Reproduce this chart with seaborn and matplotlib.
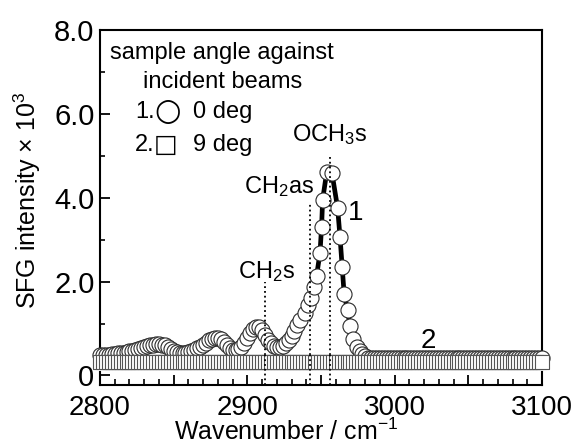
import numpy as np
import matplotlib
matplotlib.use("Agg")
import matplotlib.pyplot as plt
from matplotlib.ticker import MultipleLocator, FixedLocator, FuncFormatter
import seaborn as sns

# series 1: sample angle 0 deg (circles + fit line)
wn1 = [2800, 2802, 2804, 2806, 2808, 2810, 2812, 2814, 2816, 2818,
       2820, 2822, 2824, 2826, 2828, 2830, 2832, 2834, 2836, 2838,
       2840, 2842, 2844, 2846, 2848, 2850, 2852, 2854, 2856, 2858,
       2860, 2862, 2864, 2866, 2868, 2870, 2872, 2874, 2876, 2878,
       2880, 2882, 2884, 2886, 2888, 2890, 2892, 2894, 2896, 2898,
       2900, 2902, 2904, 2906, 2908, 2910, 2912, 2914, 2916, 2918,
       2920, 2922, 2924, 2926, 2928, 2930, 2932, 2934,
       2936, 2939, 2941, 2943.5, 2945.3, 2947, 2949.3, 2950.4, 2951.1, 2953.9,
       2957.5, 2961.3, 2962.9, 2964.4, 2965.7, 2968, 2969.7, 2971.5, 2974.2, 2976.5,
       2978, 2980, 2982, 2984, 2986, 2988, 2990, 2992, 2994, 2996,
       2998, 3000, 3002, 3004, 3006, 3008, 3010, 3012, 3014, 3016,
       3018, 3020, 3022, 3024, 3026, 3028, 3030, 3032, 3034, 3036,
       3038, 3040, 3042, 3044, 3046, 3048, 3050, 3052, 3054, 3056,
       3058, 3060, 3062, 3064, 3066, 3068, 3070, 3072, 3074, 3076,
       3078, 3080, 3082, 3084, 3086, 3088, 3090, 3092, 3094, 3096,
       3098, 3100]
sfg1 = [0.25, 0.25, 0.26, 0.26, 0.27, 0.28, 0.29, 0.30, 0.31, 0.32,
        0.34, 0.36, 0.38, 0.40, 0.42, 0.44, 0.46, 0.48, 0.50, 0.51,
        0.51, 0.50, 0.48, 0.44, 0.40, 0.36, 0.33, 0.31, 0.30, 0.31,
        0.32, 0.34, 0.37, 0.41, 0.45, 0.50, 0.55, 0.60, 0.64, 0.66,
        0.66, 0.63, 0.57, 0.49, 0.42, 0.38, 0.37, 0.39, 0.45, 0.54,
        0.65, 0.77, 0.87, 0.92, 0.91, 0.84, 0.73, 0.62, 0.53, 0.47,
        0.44, 0.44, 0.47, 0.53, 0.61, 0.71, 0.83, 0.96,
        1.09, 1.25, 1.45, 1.60, 1.87, 2.14, 2.68, 3.31, 3.95, 4.62,
        4.58, 3.75, 3.07, 2.36, 1.71, 1.33, 0.94, 0.63, 0.44, 0.34,
        0.27, 0.22, 0.19, 0.18, 0.17, 0.17, 0.17, 0.17, 0.17, 0.17,
        0.17, 0.17, 0.17, 0.17, 0.17, 0.17, 0.17, 0.17, 0.17, 0.17,
        0.17, 0.17, 0.17, 0.17, 0.17, 0.17, 0.17, 0.17, 0.17, 0.17,
        0.17, 0.17, 0.17, 0.17, 0.17, 0.17, 0.17, 0.17, 0.17, 0.17,
        0.17, 0.17, 0.17, 0.17, 0.17, 0.17, 0.17, 0.17, 0.17, 0.17,
        0.17, 0.17, 0.17, 0.17, 0.17, 0.17, 0.17, 0.17, 0.17, 0.17,
        0.17, 0.17]

# series 2: sample angle 9 deg (squares), lower broken-axis panel
wn2 = list(range(2800, 3101, 2))
sfg2 = [0.30, 0.30, 0.30, 0.30, 0.30, 0.30, 0.30, 0.30, 0.30, 0.30,
        0.30, 0.30, 0.30, 0.30, 0.30, 0.30, 0.30, 0.30, 0.30, 0.30,
        0.30, 0.30, 0.30, 0.30, 0.30, 0.30, 0.30, 0.30, 0.30, 0.30,
        0.30, 0.30, 0.30, 0.30, 0.30, 0.30, 0.30, 0.30, 0.30, 0.30,
        0.30, 0.30, 0.30, 0.30, 0.30, 0.30, 0.30, 0.30, 0.30, 0.30,
        0.30, 0.30, 0.30, 0.30, 0.30, 0.30, 0.30, 0.30, 0.30, 0.30,
        0.30, 0.30, 0.30, 0.30, 0.30, 0.30, 0.30, 0.30, 0.30, 0.30,
        0.30, 0.30, 0.30, 0.30, 0.30, 0.30, 0.30, 0.30, 0.30, 0.30,
        0.30, 0.30, 0.30, 0.30, 0.30, 0.30, 0.30, 0.30, 0.30, 0.30,
        0.30, 0.30, 0.30, 0.30, 0.30, 0.30, 0.30, 0.30, 0.30, 0.30,
        0.30, 0.30, 0.30, 0.30, 0.30, 0.30, 0.30, 0.30, 0.30, 0.30,
        0.30, 0.30, 0.30, 0.30, 0.30, 0.30, 0.30, 0.30, 0.30, 0.30,
        0.30, 0.30, 0.30, 0.30, 0.30, 0.30, 0.30, 0.30, 0.30, 0.30,
        0.30, 0.30, 0.30, 0.30, 0.30, 0.30, 0.30, 0.30, 0.30, 0.30,
        0.30, 0.30, 0.30, 0.30, 0.30, 0.30, 0.30, 0.30, 0.30, 0.30,
        0.30]

# peak assignments: label, wavenumber, top of the dotted line
peak_labels = ["CH$_2$s", "CH$_2$as", "OCH$_3$s"]
peak_wn = [2912, 2942.5, 2956]
peak_top = [2.0, 3.9, 5.0]

sns.set_style("ticks")
plt.rcParams['font.family'] = ['Liberation Sans', 'DejaVu Sans']
plt.rcParams['mathtext.fontset'] = 'custom'
plt.rcParams['mathtext.rm'] = 'Liberation Sans'
plt.rcParams['mathtext.it'] = 'Liberation Sans:italic'
for k in ['text.color', 'axes.labelcolor', 'xtick.color', 'ytick.color']:
    plt.rcParams[k] = 'black'

fig = plt.figure(figsize=(5.74, 4.47), dpi=100)
W, H = 574, 447
x0, x1 = 100, 542
ax = fig.add_axes([x0 / W, (H - 355) / H, (x1 - x0) / W, 325 / H])
axb = fig.add_axes([x0 / W, (H - 385) / H, (x1 - x0) / W, 30 / H])
for a in (ax, axb):
    a.set_facecolor('none')
    a.set_xlim(2800, 3100)
    for s in a.spines.values():
        s.set_linewidth(1.5)
        s.set_color('black')

# upper panel
ax.set_ylim(0.253, 8.0)
sns.lineplot(x=wn1, y=sfg1, ax=ax, color='black', lw=3.4, estimator=None,
             sort=False, zorder=2)
sns.scatterplot(x=wn1, y=sfg1, ax=ax, marker='o', s=118, color='white',
                edgecolor='#2a2a2a', linewidth=0.8, clip_on=False, zorder=3)
for lab, w, t in zip(peak_labels, peak_wn, peak_top):
    ax.vlines(w, 0.253, t, colors='black', linestyles=':', lw=1.3, zorder=4)
ax.spines['bottom'].set_visible(False)
ax.spines['left'].set_bounds(0.32, 8.0)
ax.tick_params(axis='x', which='both', bottom=False, labelbottom=False)
ax.yaxis.set_major_locator(FixedLocator([2, 4, 6, 8]))
ax.yaxis.set_minor_locator(FixedLocator([1, 3, 5, 7]))
ax.yaxis.set_major_formatter(FuncFormatter(lambda v, p: f"{v:.1f}"))
ax.tick_params(axis='y', which='major', direction='in', length=7, width=1.3,
               labelsize=21, pad=4)
ax.tick_params(axis='y', which='minor', direction='in', length=3.6, width=1.2)
ax.set_ylabel("SFG intensity \u00d7 10$^3$", fontsize=18)
ax.yaxis.set_label_coords(-0.129, 0.477)

# lower panel
axb.set_ylim(-0.24, 0.475)
sns.scatterplot(x=wn2, y=sfg2, ax=axb, marker='s', s=88, color='white',
                edgecolor='#555555', linewidth=0.8, clip_on=False, zorder=3)
for w in peak_wn:
    axb.axvline(w, color='black', ls=':', lw=1.3, zorder=4)
axb.spines['top'].set_visible(False)
axb.spines['left'].set_bounds(-0.24, 0.07)
axb.spines['right'].set_bounds(-0.24, 0.07)
axb.set_yticks([0])
axb.set_yticklabels(["0"])
axb.tick_params(axis='y', direction='in', length=7, width=1.3, labelsize=21, pad=4)
axb.xaxis.set_major_locator(MultipleLocator(50))
axb.xaxis.set_minor_locator(MultipleLocator(10))
axb.xaxis.set_major_formatter(FuncFormatter(lambda v, p: f"{v:.0f}" if v % 100 == 0 else ""))
axb.tick_params(axis='x', which='major', direction='in', length=7, width=1.3,
                labelsize=20, pad=7)
axb.tick_params(axis='x', which='minor', direction='in', length=4, width=1.2)
axb.set_xlabel("Wavenumber / cm$^{-1}$", fontsize=18)
axb.xaxis.set_label_coords(0.42, -1.12)

# peak labels
ax.text(2956, 5.34, "OCH$_3$s", fontsize=17, ha='center', va='baseline')
ax.text(2945.5, 4.11, "CH$_2$as", fontsize=17, ha='right', va='baseline')
ax.text(2913, 2.08, "CH$_2$s", fontsize=17, ha='center', va='baseline')
ax.text(2973.3, 3.47, "1", fontsize=20, ha='center', va='baseline')
ax.text(3022.5, 0.42, "2", fontsize=20, ha='center', va='baseline', zorder=5)

# legend block
tr = ax.transAxes
ax.text(0.0226, 0.928, "sample angle against", fontsize=17, va='center', transform=tr)
ax.text(0.0973, 0.8415, "incident beams", fontsize=17, va='center', transform=tr)
ax.text(0.079, 0.748, "1.", fontsize=17, va='center', transform=tr)
ax.text(0.1538, 0.748, "\u25cb", fontsize=22, va='center', ha='center', transform=tr,
        family=['DejaVu Sans'])
ax.text(0.2104, 0.748, "0 deg", fontsize=17, va='center', transform=tr)
ax.text(0.079, 0.646, "2.", fontsize=17, va='center', transform=tr)
ax.text(0.149, 0.646, "\u25a1", fontsize=18, va='center', ha='center', transform=tr,
        family=['DejaVu Sans'])
ax.text(0.2104, 0.646, "9 deg", fontsize=17, va='center', transform=tr)

fig.savefig("out.png", dpi=100)
